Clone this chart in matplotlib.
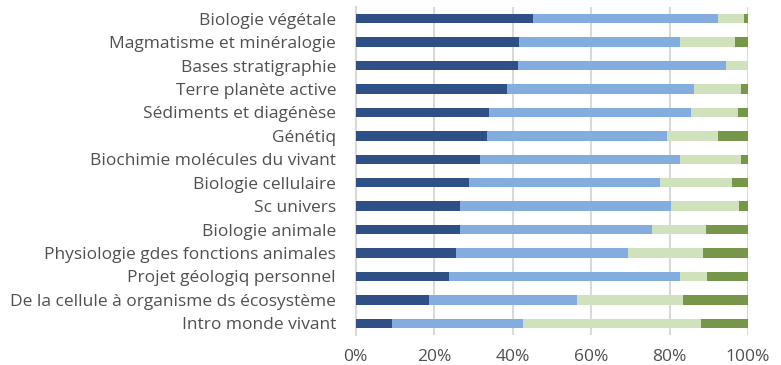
import matplotlib.pyplot as plt
import numpy as np

# course names, top to bottom
courses = [
    "Biologie végétale",
    "Magmatisme et minéralogie",
    "Bases stratigraphie",
    "Terre planète active",
    "Sédiments et diagénèse",
    "Génétiq",
    "Biochimie molécules du vivant",
    "Biologie cellulaire",
    "Sc univers",
    "Biologie animale",
    "Physiologie gdes fonctions animales",
    "Projet géologiq personnel",
    "De la cellule à organisme ds écosystème",
    "Intro monde vivant",
]

# share of answers per category (%)
cat1 = [45.3, 41.7, 41.4, 38.6, 34.0, 33.5, 31.7, 29.0, 26.6, 26.5, 25.6, 23.9, 18.7, 9.3]
cat2 = [47.1, 41.0, 52.9, 47.6, 51.5, 45.9, 51.0, 48.5, 53.8, 49.0, 43.8, 58.8, 37.8, 33.4]
cat3 = [6.6, 14.0, 5.7, 12.0, 12.0, 13.0, 15.4, 18.3, 17.2, 13.9, 19.2, 6.9, 26.9, 45.4]
cat4 = [1.0, 3.3, 0.0, 1.8, 2.5, 7.6, 1.9, 4.2, 2.4, 10.6, 11.4, 10.4, 16.6, 11.9]

colors = ["#2E5087", "#84ADDF", "#CFE2BC", "#76974A"]

plt.rcParams["font.family"] = ["Open Sans", "DejaVu Sans"]

fig = plt.figure(figsize=(7.81, 3.65), dpi=100)
ax = fig.add_axes([355.5 / 781, 30 / 365, (748 - 355.5) / 781, 328 / 365])

y = np.arange(len(courses))
left = np.zeros(len(courses))
for vals, c in zip([cat1, cat2, cat3, cat4], colors):
    vals = np.array(vals)
    ax.barh(y, vals, left=left, height=0.4, color=c, zorder=3)
    left += vals

ax.set_xlim(0, 100)
ax.set_ylim(len(courses) - 0.5, -0.5)
ax.set_xticks(range(0, 101, 20))
ax.set_xticklabels([f"{v}%" for v in range(0, 101, 20)])
ax.set_yticks(y)
ax.set_yticklabels(courses)

ax.grid(axis="x", color="#D9D9D9", linewidth=1.5, zorder=0)
for s in ["top", "right", "bottom"]:
    ax.spines[s].set_visible(False)
ax.spines["left"].set_color("#D9D9D9")
ax.spines["left"].set_linewidth(1.5)
ax.tick_params(axis="both", length=0, labelsize=12.5, labelcolor="#505050")
ax.tick_params(axis="y", pad=14)
ax.tick_params(axis="x", pad=10)

fig.savefig("out.png", dpi=100)
